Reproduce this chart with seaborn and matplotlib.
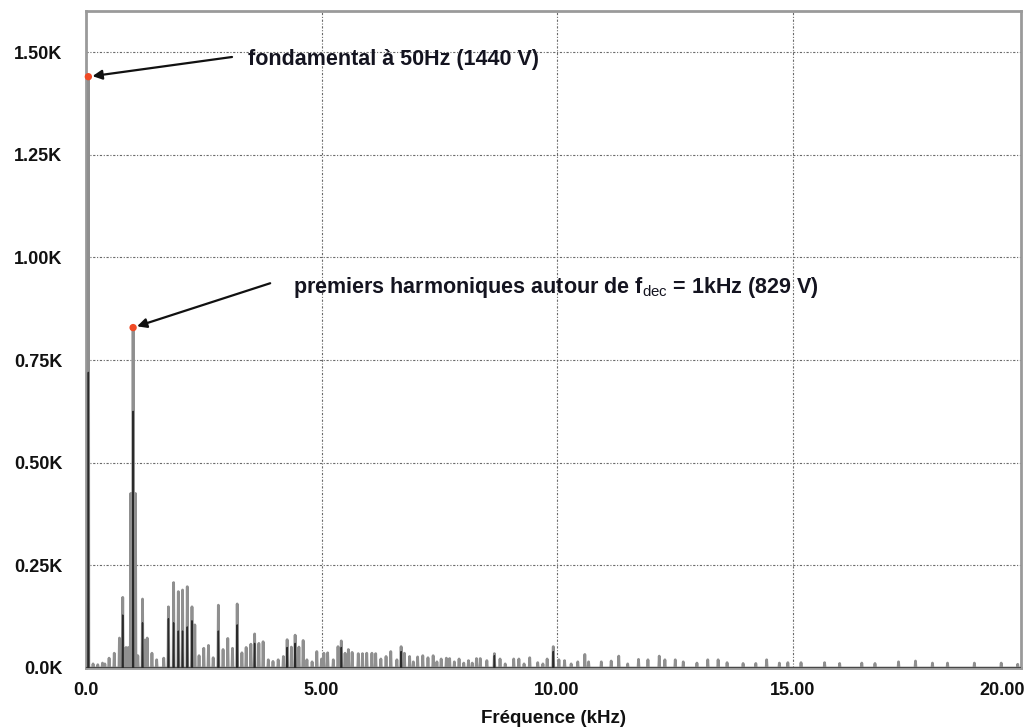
import numpy as np
import pandas as pd
import matplotlib
matplotlib.use("Agg")
import matplotlib.pyplot as plt
from matplotlib.ticker import FuncFormatter
import seaborn as sns

# Harmonic spectrum of the inverter output voltage (frequency in kHz, amplitude in kV)
peak_freq_khz = [
    0.05, 0.15, 0.25, 0.35, 0.40, 0.49, 0.60, 0.71, 0.78, 0.85, 0.90, 0.95, 1.00, 1.05,
    1.10, 1.20, 1.25, 1.30, 1.40, 1.50, 1.65, 1.75, 1.86, 1.96, 2.05, 2.15, 2.25, 2.31,
    2.40, 2.50, 2.60, 2.70, 2.81, 2.91, 3.01, 3.11, 3.21, 3.31, 3.40, 3.50, 3.58, 3.67,
    3.76, 3.87, 3.97, 4.08, 4.19, 4.27, 4.36, 4.44, 4.52, 4.61, 4.69, 4.80, 4.90, 5.00,
    5.05, 5.13, 5.25, 5.35, 5.42, 5.50, 5.57, 5.65, 5.78, 5.87, 5.96, 6.07, 6.15, 6.26,
    6.37, 6.47, 6.60, 6.69, 6.76, 6.87, 6.95, 7.04, 7.15, 7.26, 7.37, 7.45, 7.54, 7.65,
    7.72, 7.82, 7.92, 8.02, 8.12, 8.20, 8.29, 8.37, 8.51, 8.67, 8.79, 8.90, 9.08, 9.19,
    9.30, 9.42, 9.59, 9.70, 9.79, 9.92, 10.04, 10.16, 10.30, 10.44, 10.59, 10.67, 10.94,
    11.15, 11.31, 11.50, 11.73, 11.93, 12.17, 12.29, 12.51, 12.68, 12.97, 13.20, 13.42,
    13.61, 13.95, 14.22, 14.45, 14.72, 14.90, 15.18, 15.68, 16.00, 16.47, 16.75, 17.25,
    17.61, 17.97, 18.29, 18.86, 19.43, 19.78,
]
peak_amp_kv = [
    1.440, 0.010, 0.008, 0.012, 0.010, 0.024, 0.036, 0.073, 0.172, 0.050, 0.050, 0.425, 0.829, 0.425,
    0.030, 0.168, 0.068, 0.073, 0.036, 0.020, 0.024, 0.149, 0.208, 0.186, 0.190, 0.198, 0.149, 0.105,
    0.030, 0.048, 0.055, 0.025, 0.153, 0.045, 0.072, 0.048, 0.156, 0.037, 0.050, 0.058, 0.083, 0.060,
    0.064, 0.020, 0.016, 0.020, 0.028, 0.069, 0.051, 0.080, 0.051, 0.067, 0.020, 0.015, 0.040, 0.022,
    0.036, 0.037, 0.020, 0.052, 0.066, 0.036, 0.045, 0.038, 0.035, 0.035, 0.036, 0.036, 0.035, 0.022,
    0.028, 0.040, 0.020, 0.052, 0.036, 0.028, 0.015, 0.027, 0.030, 0.025, 0.030, 0.015, 0.022, 0.024,
    0.023, 0.015, 0.022, 0.012, 0.018, 0.012, 0.023, 0.023, 0.018, 0.035, 0.022, 0.010, 0.022, 0.022,
    0.010, 0.025, 0.013, 0.010, 0.022, 0.052, 0.020, 0.018, 0.010, 0.015, 0.033, 0.015, 0.015,
    0.017, 0.029, 0.010, 0.021, 0.020, 0.029, 0.020, 0.020, 0.015, 0.012, 0.020, 0.020,
    0.013, 0.011, 0.011, 0.020, 0.012, 0.013, 0.013, 0.013, 0.011, 0.012, 0.011, 0.015,
    0.017, 0.012, 0.012, 0.012, 0.012, 0.009,
]

# Second (darker) trace, drawn over the first
dark_freq_khz = [0.05, 0.78, 1.00, 1.20, 1.75, 1.86, 1.96, 2.05, 2.15, 2.25, 2.81, 3.21,
                 3.58, 4.27, 4.44, 5.42, 6.69, 8.67, 9.92]
dark_amp_kv = [0.720, 0.129, 0.625, 0.110, 0.120, 0.110, 0.090, 0.090, 0.100, 0.115, 0.090, 0.105,
               0.060, 0.050, 0.060, 0.050, 0.040, 0.030, 0.040]

# Annotated components
fund_freq_khz, fund_amp_kv = 0.05, 1.440
dec_freq_khz, dec_amp_kv = 1.00, 0.829

y_ticks = [0.0, 0.25, 0.50, 0.75, 1.00, 1.25, 1.50]
x_ticks = [0.0, 5.0, 10.0, 15.0]


def to_trace(freqs, amps, step=0.01, fmax=20.0):
    grid = np.round(np.arange(0, int(round(fmax / step)) + 1) * step, 2)
    vals = np.zeros_like(grid)
    idx = np.round(np.asarray(freqs) / step).astype(int)
    vals[idx] = amps
    return pd.DataFrame({"freq": grid, "amp": vals})


main_df = to_trace(peak_freq_khz, peak_amp_kv)
dark_df = to_trace(dark_freq_khz, dark_amp_kv)

sns.set_theme(style="white")
plt.rcParams["font.family"] = ["Liberation Sans", "DejaVu Sans"]
plt.rcParams["mathtext.fontset"] = "custom"
plt.rcParams["mathtext.rm"] = "Liberation Sans"
plt.rcParams["mathtext.it"] = "Liberation Sans"
plt.rcParams["mathtext.bf"] = "Liberation Sans:bold"

fig = plt.figure(figsize=(10.27, 7.28), dpi=100)
ax = fig.add_axes([86 / 1027, 60 / 728, 935 / 1027, 657 / 728])

sns.lineplot(data=main_df, x="freq", y="amp", ax=ax, color="#8f8f8f", lw=2.0,
             estimator=None, zorder=3)
sns.lineplot(data=dark_df, x="freq", y="amp", ax=ax, color="#2a2a2a", lw=1.0,
             estimator=None, zorder=4)

ax.set_xlim(0, 19.85)
ax.set_ylim(0, 1.60)
ax.set_xticks(x_ticks)
ax.set_yticks(y_ticks)
ax.xaxis.set_major_formatter(FuncFormatter(lambda v, p: "0.0" if v == 0 else f"{v:.2f}"))
ax.yaxis.set_major_formatter(FuncFormatter(lambda v, p: "0.0K" if v == 0 else f"{v:.2f}K"))
ax.tick_params(axis="both", length=0, labelsize=13, colors="#111111")
ax.tick_params(axis="y", pad=17)
ax.tick_params(axis="x", pad=10)
for lab in ax.get_xticklabels() + ax.get_yticklabels():
    lab.set_fontweight("bold")

# Right-end label of the frequency axis
ax.annotate("20.00", xy=(1.0, 0.0), xycoords="axes fraction", xytext=(3, -10),
            textcoords="offset points", ha="right", va="top", fontsize=13,
            fontweight="bold", color="#111111")

ax.grid(True, color="#6a6a6a", linestyle=(0, (2, 1.5, 1, 1.5)), lw=0.8)
ax.set_axisbelow(True)
for sp in ax.spines.values():
    sp.set_visible(True)
    sp.set_color("#9a9a9a")
    sp.set_linewidth(2)

ax.set_xlabel("Fréquence (kHz)", fontsize=13.5, fontweight="bold",
              labelpad=8, color="#111111")
ax.set_ylabel("")

sns.scatterplot(x=[fund_freq_khz, dec_freq_khz], y=[fund_amp_kv, dec_amp_kv], ax=ax,
                color="#f04a25", s=28, edgecolor="none", zorder=6, clip_on=False)

arrow_kw = dict(arrowstyle="-|>", color="#111111", lw=1.6, mutation_scale=14,
                shrinkA=0, shrinkB=3)

ax.annotate("", xy=(fund_freq_khz, fund_amp_kv), xytext=(3.10, 1.488),
            arrowprops=arrow_kw, zorder=7)
ax.text(3.44, 1.482, f"fondamental à 50Hz ({fund_amp_kv * 1000:.0f} V)", fontsize=15.5,
        fontweight="bold", va="center", ha="left", color="#141420")

ax.annotate("", xy=(dec_freq_khz, dec_amp_kv), xytext=(3.91, 0.937),
            arrowprops=arrow_kw, zorder=7)
ax.text(4.39, 0.926,
        r"premiers harmoniques autour de f$_{\mathrm{dec}}$ = 1kHz ("
        + f"{dec_amp_kv * 1000:.0f} V)",
        fontsize=15.5, fontweight="bold", va="center", ha="left", color="#141420")

fig.savefig("out.png", dpi=100)
